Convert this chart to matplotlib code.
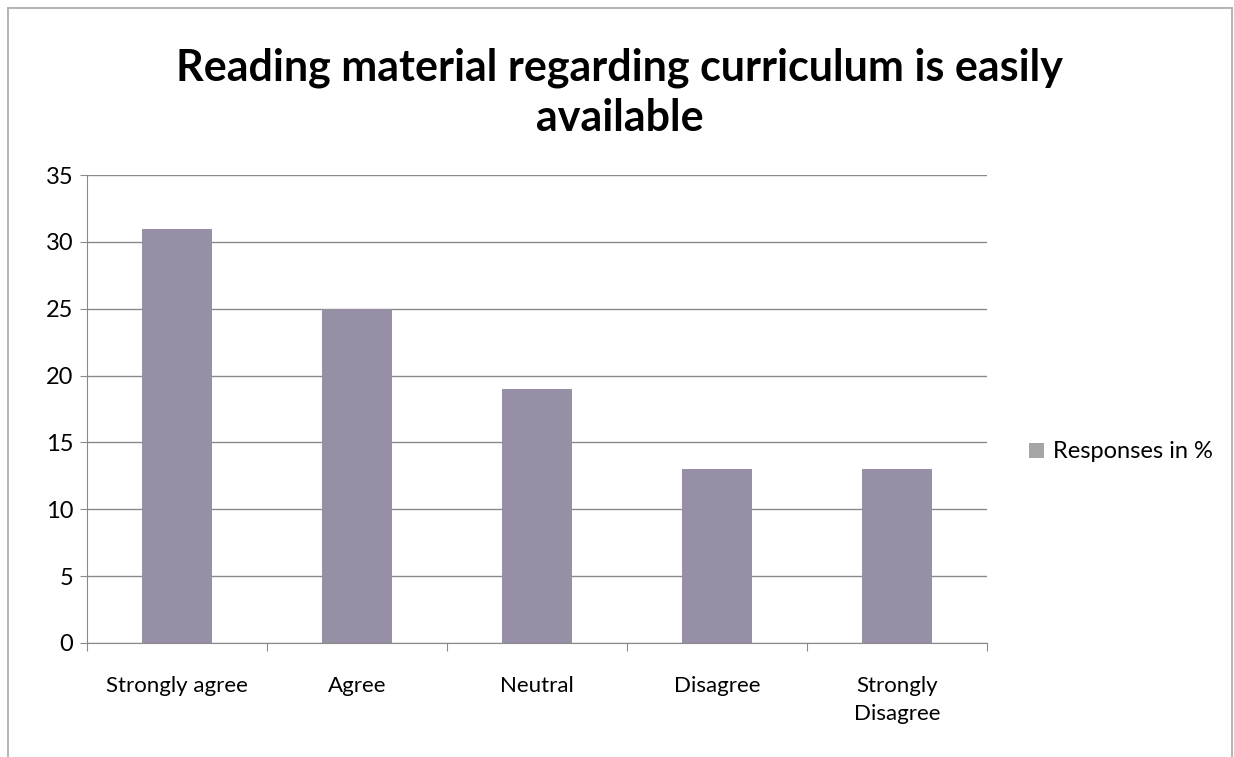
import matplotlib
matplotlib.use("Agg")
import matplotlib.pyplot as plt
from matplotlib.patches import Patch
from matplotlib.lines import Line2D

categories = ["Strongly agree", "Agree", "Neutral", "Disagree", "Strongly\nDisagree"]
values = [31, 25, 19, 13, 13]
yticks = [0, 5, 10, 15, 20, 25, 30, 35]
title = "Reading material regarding curriculum is easily\navailable"
legend_label = "Responses in %"

plt.rcParams['font.family'] = ['Lato', 'DejaVu Sans']

fig = plt.figure(figsize=(12.34, 7.57), dpi=100)
ax = fig.add_axes([0.0705, 0.1506, 0.7295, 0.6182])

x = list(range(len(categories)))
ax.bar(x, values, width=0.39, color="#968fa6", zorder=2)

ax.set_xlim(-0.5, len(categories) - 0.5)
ax.set_ylim(0, 35)
ax.set_yticks(yticks)
ax.set_yticklabels([str(v) for v in yticks], fontsize=17)
ax.yaxis.grid(True, color="#8a8a8a", linewidth=1.0, zorder=0)
ax.set_axisbelow(True)

ax.set_xticks([i + 0.5 for i in range(-1, len(categories))], minor=False)
ax.set_xticklabels([])
ax.set_xticks(x, minor=True)
ax.set_xticklabels(categories, minor=True, fontsize=16, linespacing=1.5)
ax.tick_params(axis='x', which='minor', length=0, pad=24)
ax.tick_params(axis='x', which='major', length=6, color="#8a8a8a", direction='out')
ax.tick_params(axis='y', length=5, color="#8a8a8a", direction='out', pad=5)

for s in ["top", "right"]:
    ax.spines[s].set_visible(False)
ax.spines["left"].set_color("#8a8a8a")
ax.spines["bottom"].set_color("#8a8a8a")

fig.text(0.502, 0.878, title, ha="center", va="center", fontsize=31,
         fontweight="bold", linespacing=1.3)

handle = Patch(facecolor="#a5a5a8", edgecolor="none")
fig.legend([handle], [legend_label], loc="center left",
           bbox_to_anchor=(0.817, 0.403), frameon=False, fontsize=17,
           handlelength=0.6, handleheight=0.6, handletextpad=0.4)

border = dict(transform=fig.transFigure, color="#a8a8a8", linewidth=1.2)
fig.lines.append(Line2D([0.0065, 0.0065], [0.0, 0.989], **border))
fig.lines.append(Line2D([0.0065, 0.9985], [0.989, 0.989], **border))
fig.lines.append(Line2D([0.9985, 0.9985], [0.0, 0.989], **border))

fig.savefig("out.png", dpi=100)
